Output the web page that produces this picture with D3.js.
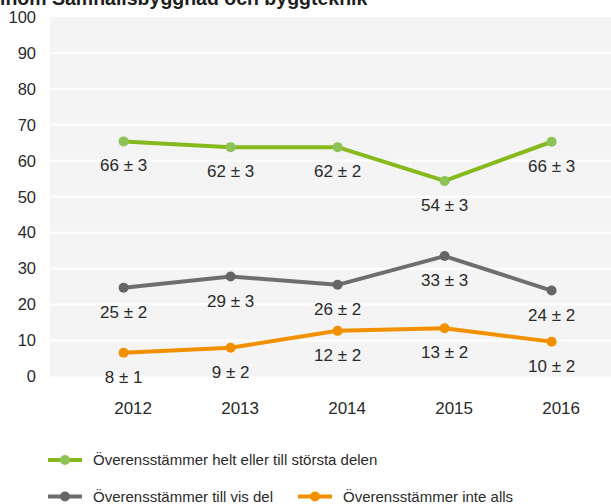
<!DOCTYPE html>
<html>
<head>
<meta charset="utf-8">
<script src="https://cdn.jsdelivr.net/npm/d3@7"></script>
<style>
  body { margin: 0; background: #fff; }
  svg { display: block; font-family: "Liberation Sans", Arial, Helvetica, sans-serif; }
</style>
</head>
<body>
<div id="chart"></div>
<script>
// data
var years = ["2012", "2013", "2014", "2015", "2016"];
var helt = [65.4, 63.8, 63.8, 54.4, 65.3];
var visDel = [24.7, 27.8, 25.5, 33.5, 23.9];
var inteAlls = [6.6, 8.0, 12.7, 13.4, 9.7];
var heltLabels = ["66 ± 3", "62 ± 3", "62 ± 2", "54 ± 3", "66 ± 3"];
var visDelLabels = ["25 ± 2", "29 ± 3", "26 ± 2", "33 ± 3", "24 ± 2"];
var inteAllsLabels = ["8 ± 1", "9 ± 2", "12 ± 2", "13 ± 2", "10 ± 2"];
var yTicks = [0, 10, 20, 30, 40, 50, 60, 70, 80, 90, 100];
var seriesNames = ["Överensstämmer helt eller till största delen", "Överensstämmer till vis del", "Överensstämmer inte alls"];

var width = 611, height = 504;
var plot = {left: 50, right: 620, top: 17, bottom: 376.5};

var series = [
  {name: seriesNames[0], values: helt, labels: heltLabels, line: "#86b91c", dot: "#8cc256"},
  {name: seriesNames[1], values: visDel, labels: visDelLabels, line: "#6e6e6e", dot: "#666666"},
  {name: seriesNames[2], values: inteAlls, labels: inteAllsLabels, line: "#f29100", dot: "#f29100"}
];

var svg = d3.select("#chart").append("svg")
  .attr("width", width)
  .attr("height", height);

// title, cut off at the top like in the original
svg.append("text")
  .attr("x", 0)
  .attr("y", 5)
  .style("font-size", "19.5px")
  .style("font-weight", "bold")
  .style("fill", "#1e1e1e")
  .text("inom Samhällsbyggnad och byggteknik");

var x = d3.scalePoint()
  .domain(years)
  .range([123.6, 551.6]);

var y = d3.scaleLinear()
  .domain([0, 100])
  .range([plot.bottom, plot.top]);

// grey plot background
svg.append("rect")
  .attr("x", plot.left)
  .attr("y", plot.top)
  .attr("width", plot.right - plot.left)
  .attr("height", plot.bottom - plot.top)
  .attr("fill", "#f4f4f4");

// white gridlines
svg.selectAll(".grid")
  .data(yTicks.slice(1, -1))
  .enter()
  .append("line")
  .attr("x1", plot.left)
  .attr("x2", plot.right)
  .attr("y1", function (d) { return y(d); })
  .attr("y2", function (d) { return y(d); })
  .attr("stroke", "#ffffff")
  .attr("stroke-width", 2);

// y axis
var yAxis = svg.append("g")
  .attr("transform", "translate(" + plot.left + ",0)")
  .call(d3.axisLeft(y).tickValues(yTicks).tickSize(0).tickPadding(14));
yAxis.select(".domain").remove();
yAxis.selectAll("text")
  .style("font-size", "16.5px")
  .style("font-family", "\"Liberation Sans\", Arial, sans-serif")
  .style("fill", "#2a2a2a");

// x axis
var xAxis = svg.append("g")
  .attr("transform", "translate(9," + plot.bottom + ")")
  .call(d3.axisBottom(x).tickSize(0).tickPadding(25));
xAxis.select(".domain").remove();
xAxis.selectAll("text")
  .style("font-size", "17px")
  .style("font-family", "\"Liberation Sans\", Arial, sans-serif")
  .style("fill", "#2a2a2a");

var line = d3.line()
  .x(function (d, i) { return x(years[i]); })
  .y(function (d) { return y(d); });

series.forEach(function (s) {
  svg.append("path")
    .datum(s.values)
    .attr("fill", "none")
    .attr("stroke", s.line)
    .attr("stroke-width", 4)
    .attr("stroke-linejoin", "round")
    .attr("d", line);

  svg.selectAll(null)
    .data(s.values)
    .enter()
    .append("circle")
    .attr("cx", function (d, i) { return x(years[i]); })
    .attr("cy", function (d) { return y(d); })
    .attr("r", 5)
    .attr("fill", s.dot);

  svg.selectAll(null)
    .data(s.values)
    .enter()
    .append("text")
    .attr("x", function (d, i) { return x(years[i]); })
    .attr("y", function (d) { return y(d) + 24; })
    .attr("dy", "0.35em")
    .style("text-anchor", "middle")
    .style("font-size", "17px")
    .style("fill", "#2a2a2a")
    .text(function (d, i) { return s.labels[i]; });
});

// legend
var legendPos = [{x: 48, y: 460}, {x: 48, y: 496.5}, {x: 298, y: 496.5}];
series.forEach(function (s, i) {
  var g = svg.append("g")
    .attr("transform", "translate(" + legendPos[i].x + "," + legendPos[i].y + ")");
  g.append("line")
    .attr("x1", 0)
    .attr("x2", 34)
    .attr("stroke", s.line)
    .attr("stroke-width", 4);
  g.append("circle")
    .attr("cx", 17)
    .attr("r", 5)
    .attr("fill", s.dot);
  g.append("text")
    .attr("x", 45)
    .attr("dy", "0.35em")
    .style("font-size", "15px")
    .style("fill", "#2a2a2a")
    .text(s.name);
});
</script>
</body>
</html>
